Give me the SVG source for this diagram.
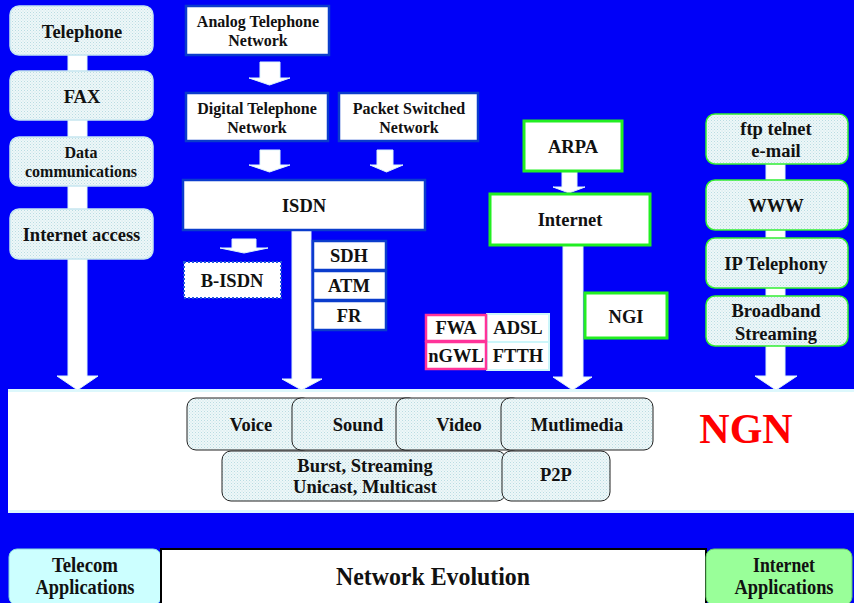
<svg xmlns="http://www.w3.org/2000/svg" width="854" height="603" viewBox="0 0 854 603">
<defs>
<pattern id="dots" width="3" height="3" patternUnits="userSpaceOnUse">
<rect width="3" height="3" fill="#EEF7F8"/>
<rect x="0" y="0" width="1" height="1" fill="#B9DCE2"/>
<rect x="1.5" y="1.5" width="1" height="1" fill="#C8E4E8"/>
</pattern>
<style>
text{font-family:'Liberation Serif','Times New Roman',serif;font-weight:bold;fill:#111;text-anchor:middle}
.app{fill:url(#dots);stroke:#C6E6F0;stroke-width:1.5}
.iapp{fill:url(#dots);stroke:#33EE33;stroke-width:1.5}
.net{fill:#fff;stroke:#0A3CCC;stroke-width:2.5}
.grn{fill:#fff;stroke:#22EE22;stroke-width:3}
.svc{fill:url(#dots);stroke:#222;stroke-width:1}
.arr{fill:#fff;stroke:#DDF4FA;stroke-width:1}
.t18{font-size:18.5px}
.t16{font-size:16px}
</style>
</defs>
<rect width="854" height="603" fill="#0000F8"/>

<g id="ngn-band">
<rect x="8" y="389" width="846" height="124" fill="#DDF8FC"/>
<rect x="8" y="392" width="846" height="118" fill="#fff"/>
</g>

<g id="connectors">
<path class="arr" d="M68,55 H87 V376 H98 L77.5,390 L57,376 H68 Z"/>
<path class="arr" d="M766,164 H785 V376 H797 L776,390 L755,376 H766 Z"/>
<path class="arr" d="M260,62 H280 V78 H290 L269.5,85 L249,78 H260 Z"/>
<path class="arr" d="M260,150 H280 V165 H290 L269.5,172 L249,165 H260 Z"/>
<path class="arr" d="M377,150 H393 V165 H403 L386.5,172 L370,165 H377 Z"/>
<path class="arr" d="M292,230 H311 V379 H322 L301.5,390 L282,379 H292 Z"/>
<path class="arr" d="M232,239 H256 V248 H268 L244,253 L220,248 H232 Z"/>
<path class="arr" d="M562,172 H577 V187 H585 L569,193 L553,187 H562 Z"/>
<path class="arr" d="M563,245 H583 V377 H592 L572.5,390 L553,377 H563 Z"/>
</g>

<g id="telephone"><rect class="app" x="10" y="6" width="143" height="49" rx="9"/><text class="t18" x="82" y="38">Telephone</text></g>
<g id="fax"><rect class="app" x="10" y="71" width="143" height="49" rx="9"/><text class="t18" x="82" y="103">FAX</text></g>
<g id="data"><rect class="app" x="10" y="137" width="143" height="49" rx="9"/><text class="t16" x="81" y="158">Data</text><text class="t16" x="81" y="177">communications</text></g>
<g id="internet-access"><rect class="app" x="10" y="209" width="143" height="50" rx="9"/><text class="t18" x="81.5" y="241">Internet access</text></g>

<g id="analog"><rect class="net" x="186" y="6" width="143" height="49"/><text class="t16" x="258" y="27">Analog Telephone</text><text class="t16" x="258" y="46">Network</text></g>
<g id="digital"><rect class="net" x="186" y="93" width="142" height="48"/><text class="t16" x="257" y="114">Digital Telephone</text><text class="t16" x="257" y="133">Network</text></g>
<g id="packet"><rect class="net" x="339" y="93" width="139" height="48"/><text class="t16" x="409" y="114">Packet Switched</text><text class="t16" x="409" y="133">Network</text></g>
<g id="isdn"><rect class="net" x="183" y="180" width="242" height="50"/><text class="t18" x="304" y="212">ISDN</text></g>
<g id="bisdn"><rect x="184" y="262" width="97" height="36" fill="#fff" stroke="#2255DD" stroke-width="2" stroke-dasharray="2,2"/><text class="t18" x="232" y="287">B-ISDN</text></g>
<g id="sdh"><rect class="net" x="313" y="241" width="73" height="29"/><text class="t18" x="349" y="262">SDH</text></g>
<g id="atm"><rect class="net" x="313" y="271" width="73" height="29"/><text class="t18" x="349" y="292">ATM</text></g>
<g id="fr"><rect class="net" x="313" y="301" width="73" height="29"/><text class="t18" x="349" y="322">FR</text></g>

<g id="arpa"><rect class="grn" x="524" y="121" width="98" height="50"/><text class="t18" x="573" y="153">ARPA</text></g>
<g id="internet"><rect class="grn" x="490" y="194" width="160" height="51"/><text class="t18" x="570" y="226">Internet</text></g>
<g id="ngi"><rect class="grn" x="585" y="293" width="82" height="45"/><text class="t18" x="626" y="323">NGI</text></g>

<g id="adsl"><rect x="487" y="314" width="62" height="28" fill="#fff" stroke="#CCF6FA" stroke-width="2"/><text class="t18" x="518" y="334">ADSL</text></g>
<g id="ftth"><rect x="487" y="342" width="62" height="28" fill="#fff" stroke="#CCF6FA" stroke-width="2"/><text class="t18" x="518" y="362">FTTH</text></g>
<g id="fwa"><rect x="426" y="315" width="60" height="26" fill="#fff" stroke="#FF3399" stroke-width="2.5"/><text class="t18" x="456" y="334">FWA</text></g>
<g id="ngwl"><rect x="426" y="342" width="60" height="27" fill="#fff" stroke="#FF3399" stroke-width="2.5"/><text class="t18" x="456" y="362">nGWL</text></g>

<g id="ftp"><rect class="iapp" x="706" y="114" width="142" height="50" rx="9"/><text class="t18" x="776" y="135">ftp telnet</text><text class="t18" x="776" y="157">e-mail</text></g>
<g id="www"><rect class="iapp" x="706" y="180" width="142" height="50" rx="9"/><text class="t18" x="776" y="212">WWW</text></g>
<g id="ip-telephony"><rect class="iapp" x="706" y="238" width="142" height="50" rx="9"/><text class="t18" x="776" y="270">IP Telephony</text></g>
<g id="broadband"><rect class="iapp" x="706" y="296" width="142" height="50" rx="9"/><text class="t18" x="776" y="317">Broadband</text><text class="t18" x="776" y="340">Streaming</text></g>

<g id="voice"><rect class="svc" x="187" y="398" width="125" height="52" rx="9"/><text class="t18" x="251" y="431">Voice</text></g>
<g id="sound"><rect class="svc" x="292" y="398" width="126" height="52" rx="9"/><text class="t18" x="358" y="431">Sound</text></g>
<g id="video"><rect class="svc" x="396" y="398" width="126" height="52" rx="9"/><text class="t18" x="459" y="431">Video</text></g>
<g id="multimedia"><rect class="svc" x="501" y="398" width="152" height="52" rx="9"/><text class="t18" x="577" y="431">Mutlimedia</text></g>
<g id="burst"><rect class="svc" x="222" y="451" width="284" height="50" rx="9"/><text class="t18" x="365" y="472">Burst, Streaming</text><text class="t18" x="365" y="493">Unicast, Multicast</text></g>
<g id="p2p"><rect class="svc" x="502" y="451" width="108" height="50" rx="9"/><text class="t18" x="556" y="481">P2P</text></g>
<g id="ngn"><text x="746" y="443" style="font-size:42px;fill:#FF0000">NGN</text></g>

<g id="telecom-apps"><rect x="9" y="549" width="152" height="56" rx="8" fill="#CCFFFF" stroke="#88DDDD" stroke-width="1"/><text x="85" y="572" style="font-size:21px" textLength="66" lengthAdjust="spacingAndGlyphs">Telecom</text><text x="85" y="594" style="font-size:21px" textLength="99" lengthAdjust="spacingAndGlyphs">Applications</text></g>
<g id="network-evolution"><rect x="161" y="549" width="545" height="56" fill="#fff" stroke="#000" stroke-width="2"/><text x="433" y="585" style="font-size:26px" textLength="194" lengthAdjust="spacingAndGlyphs">Network Evolution</text></g>
<g id="internet-apps"><rect x="706" y="549" width="146" height="56" rx="8" fill="#99FF99" stroke="#66CC66" stroke-width="1"/><text x="784" y="572" style="font-size:21px" textLength="62" lengthAdjust="spacingAndGlyphs">Internet</text><text x="784" y="594" style="font-size:21px" textLength="99" lengthAdjust="spacingAndGlyphs">Applications</text></g>
</svg>
